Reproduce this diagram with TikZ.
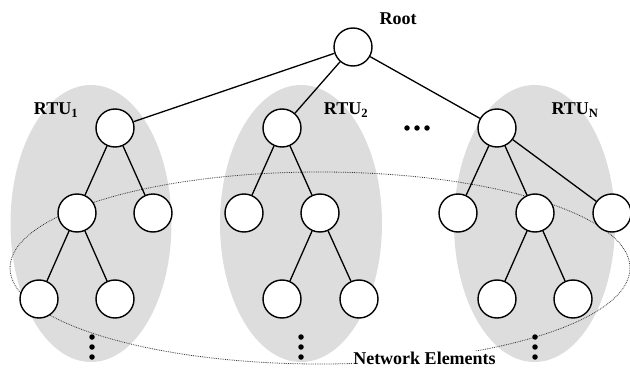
\documentclass[tikz,border=0pt]{standalone}
\usepackage{fontspec}
\setmainfont{Liberation Serif}
\definecolor{rtugray}{RGB}{221,221,221}
\begin{document}
\begin{tikzpicture}[x=1pt,y=-1pt,
  tnode/.style={circle,draw,fill=white,line width=1.4pt,minimum size=38pt,inner sep=0pt},
  link/.style={line width=1.3pt},
  region/.style={fill=rtugray,draw=none},
  lbl/.style={font=\bfseries\fontsize{18}{20}\selectfont,inner sep=0pt},
  vdot/.style={circle,fill=black,inner sep=0pt,minimum size=5.5pt}]
\useasboundingbox (0,0) rectangle (630,369);
% shaded RTU regions
\fill[region] (91,223.5) ellipse [x radius=80.5,y radius=138.5];
\fill[region] (301,223.5) ellipse [x radius=81,y radius=138.5];
\fill[region] (534.5,223.5) ellipse [x radius=80.5,y radius=138.5];
% network elements boundary
\draw[densely dotted,line width=0.8pt,black!80] (320,268) ellipse [x radius=310,y radius=96];
% nodes
\node[tnode] (root) at (353,47) {};
\node[tnode] (r1) at (115,128) {};
\node[tnode] (r2) at (282,128) {};
\node[tnode] (rn) at (497,128) {};
\node[tnode] (a1) at (77,213) {};
\node[tnode] (a2) at (153,213) {};
\node[tnode] (a3) at (39,299) {};
\node[tnode] (a4) at (115,299) {};
\node[tnode] (b1) at (244,213) {};
\node[tnode] (b2) at (320,213) {};
\node[tnode] (b3) at (282,299) {};
\node[tnode] (b4) at (359,299) {};
\node[tnode] (c1) at (458,213) {};
\node[tnode] (c2) at (535,213) {};
\node[tnode] (c3) at (612,213) {};
\node[tnode] (c4) at (497,299) {};
\node[tnode] (c5) at (573,299) {};
% links
\draw[link] (root) -- (r1);
\draw[link] (root) -- (r2);
\draw[link] (root) -- (rn);
\draw[link] (r1) -- (a1);
\draw[link] (r1) -- (a2);
\draw[link] (a1) -- (a3);
\draw[link] (a1) -- (a4);
\draw[link] (r2) -- (b1);
\draw[link] (r2) -- (b2);
\draw[link] (b2) -- (b3);
\draw[link] (b2) -- (b4);
\draw[link] (rn) -- (c1);
\draw[link] (rn) -- (c2);
\draw[link] (rn) -- (c3);
\draw[link] (c2) -- (c4);
\draw[link] (c2) -- (c5);
% continuation dots
\foreach \x in {92,301,535}
  \foreach \y in {337,347,357}
    \node[vdot] at (\x,\y) {};
\foreach \x in {407,417,427}
  \node[vdot] at (\x,128) {};
% labels
\node[lbl] (lroot) at (398,19) {Root};
\node[lbl] (l1) at (56,110) {RTU\textsubscript{1}};
\node[lbl] (l2) at (346,110) {RTU\textsubscript{2}};
\node[lbl] (ln) at (575,110) {RTU\textsubscript{N}};
\node[lbl,fill=white,inner sep=1pt] (lne) at (424.5,358) {Network Elements};
\end{tikzpicture}
\end{document}
